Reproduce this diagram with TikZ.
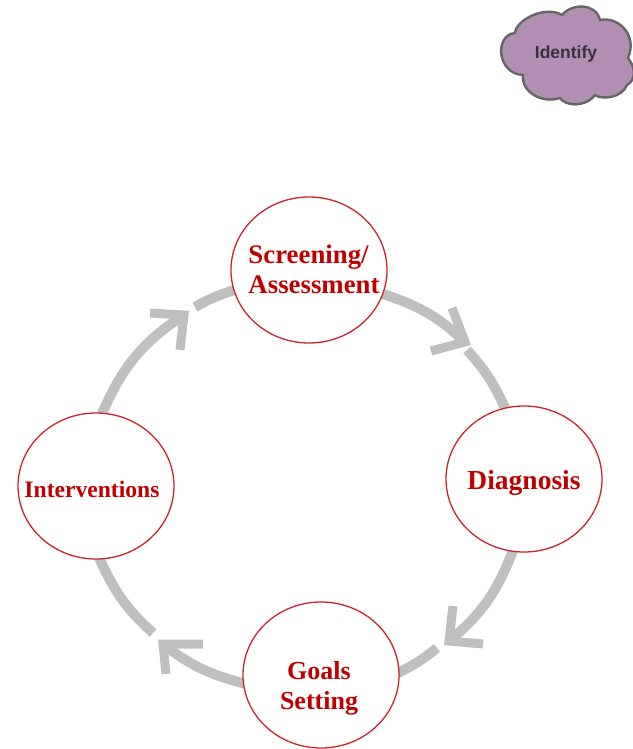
\documentclass[tikz,border=0pt]{standalone}
\usepackage{fontspec}
\setmainfont{Liberation Serif}
\newfontfamily\cloudfont{Liberation Sans}
\usetikzlibrary{shapes.geometric,backgrounds}
\definecolor{stagered}{HTML}{C00000}
\definecolor{ringred}{HTML}{C9252C}
\definecolor{arcgray}{HTML}{BFBFBF}
\definecolor{cloudfill}{HTML}{B08FB2}
\definecolor{cloudline}{HTML}{666666}
\definecolor{cloudtext}{HTML}{3A3040}
\tikzset{
  stage/.style={ellipse,draw=ringred,line width=1.3pt,fill=white,minimum width=156pt,minimum height=146pt,inner sep=0pt},
  stagetext/.style={text=stagered,font=\bfseries,align=center,inner sep=0pt},
  flowout/.style={draw=arcgray,line width=10pt,shorten <=-6pt},
  flowin/.style={draw=arcgray,line width=10pt,shorten >=-6pt},
  headtip/.style={draw=arcgray,line width=9pt,miter limit=10,line join=miter}
}
\begin{document}
\begin{tikzpicture}[x=1pt,y=-1pt]
\useasboundingbox (0,0) rectangle (632,749);
% cloud
\draw[fill=cloudfill,draw=cloudline,line width=2.4pt]
  (515,33) .. controls (516,20) and (545,5) .. (562,15)
  .. controls (572,3) and (596,3) .. (600,20)
  .. controls (618,16) and (638,35) .. (628,58)
  .. controls (636,68) and (636,80) .. (627,85)
  .. controls (622,98) and (602,100) .. (595,95)
  .. controls (585,108) and (565,106) .. (560,98)
  .. controls (542,104) and (521,92) .. (523,75)
  .. controls (497,74) and (494,35) .. (515,33) -- cycle;
\node[inner sep=0pt,text=cloudtext,font=\cloudfont\bfseries\fontsize{17.5}{20}\selectfont] (identify) at (566,54) {Identify};
% stages
\node[stage] (scr) at (309,270) {};
\node[stage] (dia) at (524,479) {};
\node[stage] (goa) at (321,675) {};
\node[stage] (int) at (96,486) {};
\node[stagetext,align=left,font=\bfseries\fontsize{26.8}{30}\selectfont] (scrt) at (314,269) {Screening/\\Assessment};
\node[stagetext,font=\bfseries\fontsize{27.5}{30}\selectfont] (diat) at (524,483) {Diagnosis};
\node[stagetext,font=\bfseries\fontsize{26}{30}\selectfont] (goat) at (319,688) {Goals\\Setting};
\node[stagetext,font=\bfseries\fontsize{23.6}{28}\selectfont] (intt) at (92,489) {Interventions};
% arrow coordinates
\coordinate (t1) at (465,342); \coordinate (b1a) at (452,308); \coordinate (b1b) at (431,351); \coordinate (s1) at (467,350);
\coordinate (t2) at (449,641); \coordinate (b2a) at (453,606); \coordinate (b2b) at (483,644); \coordinate (s2) at (437,648);
\coordinate (t3) at (163,644); \coordinate (b3a) at (203,644); \coordinate (b3b) at (166,674); \coordinate (s3) at (153,633);
\coordinate (t4) at (184,315); \coordinate (b4a) at (150,313); \coordinate (b4b) at (180,350); \coordinate (s4) at (195,307);
\begin{pgfonlayer}{background}
\draw[flowout] (scr.-18) to[bend left=13] (t1);
\draw[flowin] (s1) to[bend left=9] (dia.105);
\draw[flowout] (dia.-99) to[bend left=15] (t2);
\draw[flowin] (s2) to[bend left=6] (goa.2);
\draw[flowout] (goa.186) to[bend left=12] (t3);
\draw[flowin] (s3) to[bend left=12] (int.-87);
\draw[flowout] (int.85) to[bend left=17] (t4);
\draw[flowin] (s4) to[bend left=6] (scr.195);
\draw[headtip] (b1a) -- (t1) -- (b1b);
\draw[headtip] (b2a) -- (t2) -- (b2b);
\draw[headtip] (b3a) -- (t3) -- (b3b);
\draw[headtip] (b4a) -- (t4) -- (b4b);
\end{pgfonlayer}
\end{tikzpicture}
\end{document}
